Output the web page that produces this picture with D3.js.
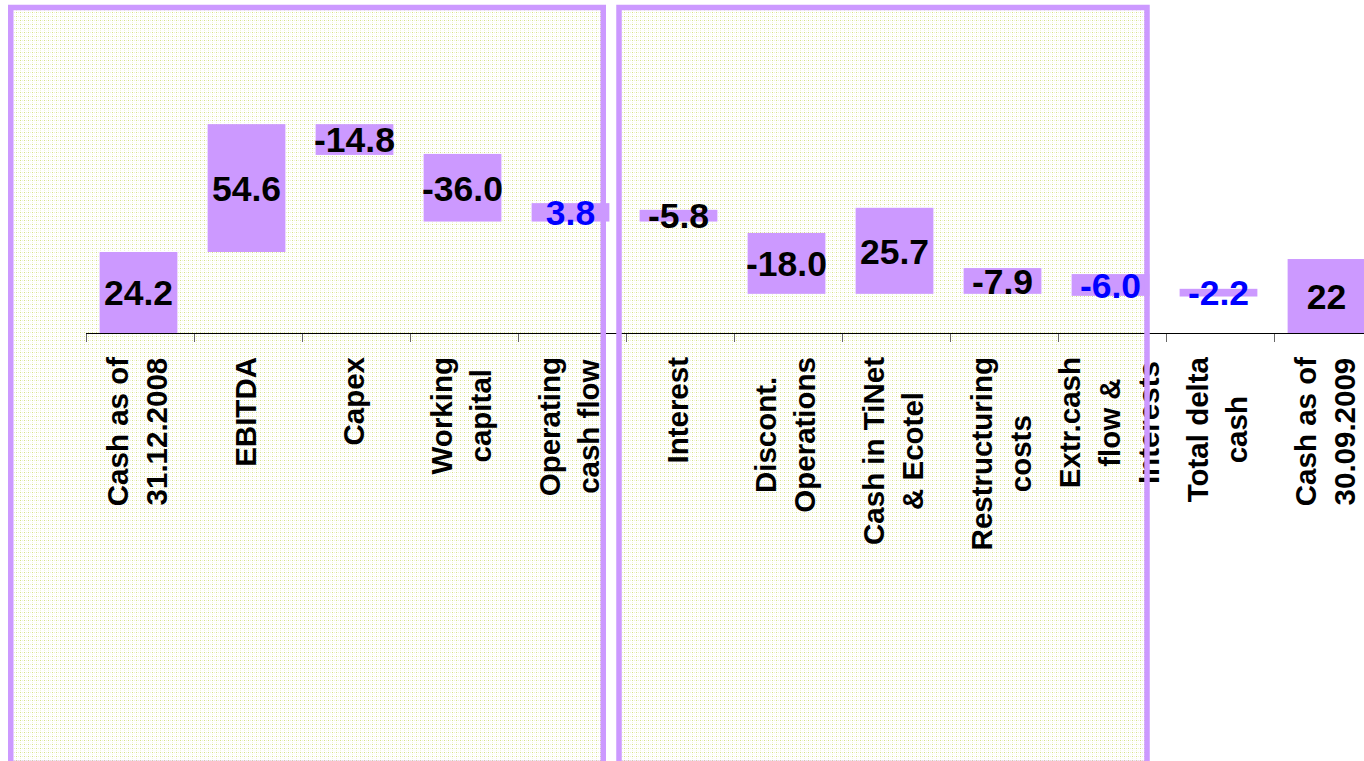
<!DOCTYPE html>
<html><head><meta charset="utf-8">
<script src="https://cdn.jsdelivr.net/npm/d3@7"></script>
<style>html,body{margin:0;padding:0;background:#fff;overflow:hidden}</style>
</head><body><svg id="c" width="1364" height="761"></svg>
<script>
// ---- data ----
const categories = [
  ["Cash as of","31.12.2008"],["EBITDA"],["Capex"],["Working","capital"],
  ["Operating","cash flow"],["Interest"],["Discont.","Operations"],
  ["Cash in TiNet","& Ecotel"],["Restructuring","costs"],
  ["Extr.cash","flow &","Interests"],["Total delta","cash"],["Cash as of","30.09.2009"]
];
const valueLabels = ["24.2","54.6","-14.8","-36.0","3.8","-5.8","-18.0","25.7","-7.9","-6.0","-2.2","22"];
const barLow  = [0, 24.2, 53.2, 33.3, 33.3, 33.3, 11.7, 11.7, 11.7, 11.1, 10.9, 0];
const barHigh = [24.2, 62.4, 62.4, 53.5, 38.8, 36.8, 29.9, 37.4, 19.4, 17.6, 13.2, 22.1];
const blueLabel = [false,false,false,false,true,false,false,false,false,true,true,false];

// ---- setup ----
const W = 1364, H = 761;
const svg = d3.select("#c");
const FONT = "'Liberation Sans', Arial, Helvetica, sans-serif";
const purple = "#CC99FF";

const defs = svg.append("defs");
const pat = defs.append("pattern").attr("id","dots").attr("width",4).attr("height",4)
  .attr("patternUnits","userSpaceOnUse");
pat.append("rect").attr("width",4).attr("height",4).attr("fill","#fff");
pat.append("rect").attr("x",0).attr("y",0).attr("width",1).attr("height",1).attr("fill","#d6e286");
pat.append("rect").attr("x",2).attr("y",0).attr("width",1).attr("height",1).attr("fill","#eff4d2");
pat.append("rect").attr("x",0).attr("y",2).attr("width",1).attr("height",1).attr("fill","#f1f5da");

const idx = d3.range(categories.length);
const x = d3.scaleBand().domain(idx).range([84.5, 84.5 + 108*12]).paddingInner(0.28).paddingOuter(0.14);
const xt = d3.scaleBand().domain(idx).range([86, 86 + 108*12]);
const y = d3.scaleLinear().domain([0, 70]).range([333, 333 - 70*81/24.2]);

// panel frames (fill)
const panels = [{x0:10.75, x1:603.25},{x0:619, x1:1147}];
svg.selectAll("rect.pfill").data(panels).join("rect").attr("class","pfill")
  .attr("x", d=>d.x0).attr("y",7.5).attr("width", d=>d.x1-d.x0).attr("height", 756)
  .attr("fill","url(#dots)");

// bars
svg.selectAll("rect.bar").data(idx).join("rect").attr("class","bar")
  .attr("x", i=>x(i)).attr("width", x.bandwidth())
  .attr("y", i=>y(barHigh[i])).attr("height", i=>y(barLow[i]) - y(barHigh[i]))
  .attr("fill", purple);

// value labels
svg.selectAll("text.val").data(idx).join("text").attr("class","val")
  .attr("x", i=>x(i) + x.bandwidth()/2)
  .attr("y", i=>(y(barHigh[i]) + y(barLow[i]))/2)
  .attr("dy","0.36em")
  .attr("text-anchor","middle")
  .attr("font-family",FONT).attr("font-weight","bold").attr("font-size",35.5)
  .attr("fill", i=>blueLabel[i] ? "#0000FF" : "#000")
  .text(i=>valueLabels[i]);

// axis
const axisY = y(0);
svg.append("line").attr("x1", xt.range()[0]).attr("x2", W).attr("y1", axisY+0.5).attr("y2", axisY+0.5)
  .attr("stroke","#000").attr("stroke-width",1);
svg.selectAll("line.tick").data(idx).join("line").attr("class","tick")
  .attr("x1", i=>Math.round(xt(i))+0.5).attr("x2", i=>Math.round(xt(i))+0.5)
  .attr("y1", axisY+1).attr("y2", axisY+9)
  .attr("stroke","#666").attr("stroke-width",1);

// category labels (rotated)
const labelTop = 357, lineGap = 39.5, fs = 29.5;
idx.forEach(i => {
  const lines = categories[i];
  const cx = xt(i) + xt.bandwidth()/2 - 1.5;
  const g = svg.append("g");
  const texts = lines.map((ln, j) => {
    const bx = cx + (j - (lines.length-1)/2)*lineGap + 9;
    return g.append("text").attr("font-family",FONT).attr("font-weight","bold").attr("font-size",fs)
      .attr("fill","#000").attr("text-anchor","middle").text(ln).datum(bx);
  });
  const maxLen = d3.max(texts, t => t.node().getComputedTextLength());
  const cy = labelTop + maxLen/2;
  texts.forEach(t => {
    const bx = t.datum();
    t.attr("transform", `translate(${bx},${cy}) rotate(-90)`);
  });
});

// panel borders on top
svg.selectAll("rect.pborder").data(panels).join("rect").attr("class","pborder")
  .attr("x", d=>d.x0).attr("y",7.5).attr("width", d=>d.x1-d.x0).attr("height", 756)
  .attr("fill","none").attr("stroke",purple).attr("stroke-width",5.5);
</script>
</body></html>
